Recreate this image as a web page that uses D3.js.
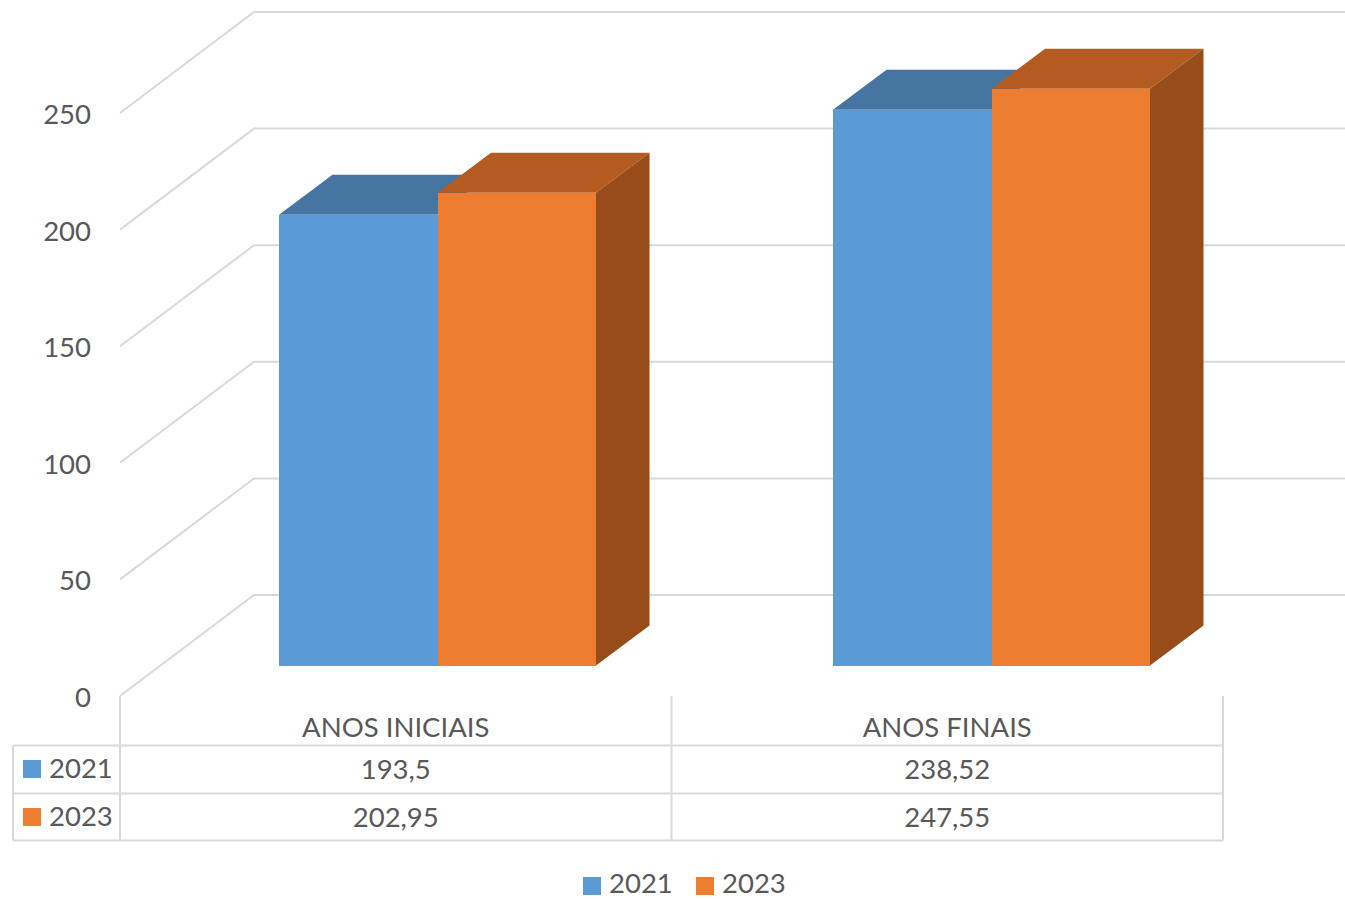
<!DOCTYPE html>
<html>
<head>
<meta charset="utf-8">
<script src="https://cdnjs.cloudflare.com/ajax/libs/d3/7.8.5/d3.min.js"></script>
<style>
  html, body { margin: 0; padding: 0; background: #fff; }
  svg { display: block; }
  text { font-family: Lato, "Open Sans", sans-serif; fill: #595959; font-size: 27.5px; }
</style>
</head>
<body>
<div id="chart"></div>
<script>
const width = 1345, height = 899;

const categories = ["ANOS INICIAIS", "ANOS FINAIS"];
const seriesNames = ["2021", "2023"];
const values2021 = [193.5, 238.52];
const values2023 = [202.95, 247.55];
const valueLabels2021 = ["193,5", "238,52"];
const valueLabels2023 = ["202,95", "247,55"];
const yTicks = [0, 50, 100, 150, 200, 250];
const colors = ["#5B9BD5", "#ED7D31"];
const topColors = ["#4675A1", "#B35B20"];
const sideColor = "#974C19";
const gridColor = "#D9D9D9";

const svg = d3.select("#chart").append("svg")
  .attr("width", width).attr("height", height)
  .attr("viewBox", [0, 0, width, height]);

// front face scale (bars sit here), and the depth offset back to the wall
const yFront = d3.scaleLinear().domain([0, 250]).range([665.5, 83]);
const depth = { x: 53.5, y: -40 };

// left wall: floor edge at the axis, back at the grid lines
const yAxisPos = d3.scaleLinear().domain([0, 250]).range([696, 113]);
const yBack = d3.scaleLinear().domain([0, 250]).range([595, 12]);
const wallX0 = 120, wallX1 = 254;

const grid = svg.append("g").attr("fill", "none").attr("stroke", gridColor).attr("stroke-width", 2);
for (const t of yTicks) {
  grid.append("path").attr("d", d3.line()([
    [wallX0, yAxisPos(t)], [wallX1, yBack(t)], [width, yBack(t)]
  ]));
}

svg.append("g").selectAll("text").data(yTicks).join("text")
  .attr("x", 91).attr("y", d => yAxisPos(d) + 11)
  .attr("text-anchor", "end").text(d => d);

// bars
const x0 = d3.scaleBand().domain(categories).range([120, 1223]);
const barStart = { "ANOS INICIAIS": 279, "ANOS FINAIS": 833 };
const barW = d3.scaleLinear().domain([0, 1]).range([0, 158.5]);

const series = [values2021, values2023];
categories.forEach((c, ci) => {
  const g = svg.append("g");
  series.forEach((vals, si) => {
    const xl = barStart[c] + barW(si);
    const xr = xl + barW(1);
    const yt = yFront(vals[ci]);
    const yb = yFront(0);
    g.append("path").attr("fill", topColors[si]).attr("d", d3.line()([
      [xl, yt], [xl + depth.x, yt + depth.y], [xr + depth.x, yt + depth.y], [xr, yt]
    ]) + "Z");
    // the side of the first bar is hidden behind the second one
    if (si === series.length - 1) {
      g.append("path").attr("fill", sideColor).attr("d", d3.line()([
        [xr, yt], [xr + depth.x, yt + depth.y], [xr + depth.x, yb + depth.y], [xr, yb]
      ]) + "Z");
    }
    g.append("rect").attr("x", xl).attr("y", yt)
      .attr("width", barW(1)).attr("height", yb - yt).attr("fill", colors[si])
      .attr("shape-rendering", "crispEdges");
  });
});

// data table
const rowY = [745.5, 793.5, 840.5];
const tableLeft = 13, tableAxis = 120, tableMid = x0.step() + 120, tableRight = 1223, tableTop = 696;
const table = svg.append("g").attr("fill", "none").attr("stroke", gridColor).attr("stroke-width", 2);
rowY.forEach(y => table.append("line").attr("x1", tableLeft).attr("x2", tableRight).attr("y1", y).attr("y2", y));
[tableAxis, tableMid, tableRight].forEach(x => table.append("line").attr("x1", x).attr("x2", x).attr("y1", tableTop).attr("y2", rowY[2]));
table.append("line").attr("x1", tableLeft).attr("x2", tableLeft).attr("y1", rowY[0]).attr("y2", rowY[2]);

svg.append("g").selectAll("text").data(categories).join("text")
  .attr("x", d => x0(d) + x0.bandwidth() / 2).attr("y", 737)
  .attr("text-anchor", "middle").text(d => d);

[valueLabels2021, valueLabels2023].forEach((labels, si) => {
  const y = [779, 827][si];
  svg.append("g").selectAll("text").data(labels).join("text")
    .attr("x", (d, i) => x0(categories[i]) + x0.bandwidth() / 2).attr("y", y)
    .attr("text-anchor", "middle").text(d => d);
  svg.append("rect").attr("x", 23).attr("y", [760, 808][si]).attr("width", 18).attr("height", 18).attr("fill", colors[si]);
  svg.append("text").attr("x", 49).attr("y", y - 1).text(seriesNames[si]);
});

// legend
const legendX = [583, 696];
seriesNames.forEach((s, i) => {
  svg.append("rect").attr("x", legendX[i]).attr("y", 877).attr("width", 18).attr("height", 18).attr("fill", colors[i]);
  svg.append("text").attr("x", legendX[i] + 26).attr("y", 893).text(s);
});
</script>
</body>
</html>
